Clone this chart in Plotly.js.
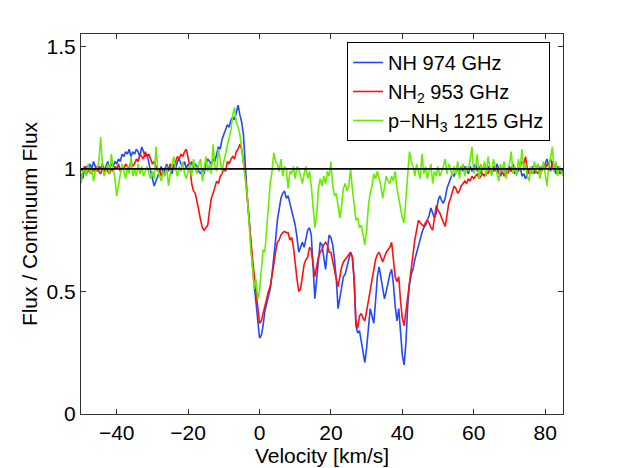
<!DOCTYPE html>
<html>
<head>
<meta charset="utf-8">
<script src="https://cdn.plot.ly/plotly-3.0.1.min.js"></script>
<style>
  html, body { margin: 0; padding: 0; background: #fff; }
  #myGraph { width: 622px; height: 468px; }
</style>
</head>
<body>
<div id="myGraph"></div>
<script>
// velocity grid: -50 .. 85 km/s, 0.5 km/s channels
const velStart = -50;
const velStep = 0.5;

// NH 974 GHz
const fluxNH = [
  0.98, 0.96, 1.00, 1.01, 0.99, 1.02, 1.00, 1.03, 1.01, 0.99,  // -50
  1.01, 1.00, 1.02, 0.99, 1.01, 1.03, 1.00, 1.02, 1.01, 1.03,  // -45
  1.02, 1.04, 1.03, 1.06, 1.05, 1.07, 1.06, 1.08, 1.05, 1.07,  // -40
  1.06, 1.08, 1.07, 1.05, 1.09, 1.07, 1.05, 1.06, 1.02, 0.99,  // -35
  0.96, 0.93, 0.95, 0.97, 0.99, 1.01, 0.98, 1.00, 1.02, 0.99,  // -30
  1.01, 0.98, 1.02, 1.00, 1.03, 1.04, 1.02, 1.01, 1.03, 1.00,  // -25
  1.02, 1.01, 1.03, 1.00, 1.02, 1.01, 0.99, 0.98, 1.00, 0.98,  // -20
  1.02, 1.04, 1.03, 1.02, 1.04, 1.03, 1.06, 1.09, 1.08, 1.12,  // -15
  1.14, 1.16, 1.18, 1.17, 1.20, 1.21, 1.20, 1.23, 1.26, 1.22,  // -10
  1.19, 1.14, 1.01, 0.90, 0.81, 0.70, 0.61, 0.53, 0.46, 0.39,  // -5
  0.31, 0.32, 0.36, 0.42, 0.45, 0.49, 0.51, 0.57, 0.63, 0.71,  // 0
  0.79, 0.84, 0.88, 0.90, 0.91, 0.88, 0.89, 0.86, 0.83, 0.80,  // 5
  0.77, 0.72, 0.66, 0.68, 0.70, 0.68, 0.71, 0.75, 0.76, 0.73,  // 10
  0.60, 0.47, 0.55, 0.64, 0.70, 0.69, 0.63, 0.59, 0.67, 0.73,  // 15
  0.72, 0.69, 0.63, 0.55, 0.43, 0.48, 0.53, 0.56, 0.57, 0.60,  // 20
  0.62, 0.66, 0.64, 0.55, 0.36, 0.33, 0.34, 0.30, 0.25, 0.21,  // 25
  0.27, 0.36, 0.43, 0.40, 0.37, 0.46, 0.56, 0.60, 0.56, 0.51,  // 30
  0.47, 0.50, 0.54, 0.57, 0.59, 0.53, 0.44, 0.38, 0.43, 0.33,  // 35
  0.24, 0.20, 0.29, 0.44, 0.53, 0.57, 0.59, 0.63, 0.66, 0.69,  // 40
  0.72, 0.74, 0.76, 0.77, 0.79, 0.81, 0.84, 0.82, 0.80, 0.82,  // 45
  0.87, 0.89, 0.87, 0.86, 0.88, 0.92, 0.94, 0.96, 0.98, 0.97,  // 50
  0.99, 1.00, 0.98, 1.01, 0.99, 1.01, 1.00, 0.98, 1.01, 0.99,  // 55
  1.00, 1.02, 0.99, 1.01, 0.98, 1.00, 1.02, 0.99, 1.01, 1.00,  // 60
  0.98, 1.01, 0.99, 1.02, 1.00, 0.97, 0.99, 1.01, 0.98, 1.00,  // 65
  1.01, 0.99, 1.02, 0.98, 1.00, 0.99, 1.01, 0.97, 0.98, 0.96,  // 70
  0.98, 1.00, 0.99, 1.01, 0.98, 1.00, 1.02, 0.99, 1.01, 1.00,  // 75
  1.02, 1.04, 1.01, 0.99, 1.03, 1.00, 0.98, 1.01, 0.99, 0.98,  // 80
  1.00
];

// NH2 953 GHz
const fluxNH2 = [
  1.00, 0.99, 1.01, 0.98, 0.99, 1.00, 0.98, 1.00, 0.99, 1.01,  // -50
  0.99, 0.98, 1.00, 0.99, 1.01, 0.99, 0.98, 1.00, 0.99, 1.01,  // -45
  1.00, 1.02, 0.99, 1.01, 1.00, 1.02, 1.01, 1.00, 1.03, 1.01,  // -40
  1.02, 1.04, 1.03, 1.06, 1.05, 1.04, 1.07, 1.05, 1.06, 1.04,  // -35
  1.02, 1.03, 1.01, 0.99, 1.00, 0.97, 0.99, 0.98, 1.01, 1.00,  // -30
  1.02, 1.01, 1.00, 1.03, 1.05, 1.04, 1.06, 1.05, 1.07, 1.08,  // -25
  1.05, 1.01, 0.94, 0.91, 0.90, 0.87, 0.83, 0.79, 0.76, 0.75,  // -20
  0.76, 0.77, 0.83, 0.88, 0.90, 0.93, 0.95, 0.94, 0.97, 0.98,  // -15
  1.00, 0.99, 1.03, 1.02, 1.04, 1.05, 1.04, 1.07, 1.08, 1.10,  // -10
  1.08, 1.03, 0.98, 0.89, 0.80, 0.72, 0.64, 0.57, 0.50, 0.43,  // -5
  0.37, 0.38, 0.41, 0.45, 0.47, 0.50, 0.52, 0.56, 0.61, 0.66,  // 0
  0.70, 0.71, 0.73, 0.74, 0.745, 0.74, 0.74, 0.71, 0.72, 0.68, // 5
  0.60, 0.55, 0.50, 0.51, 0.56, 0.61, 0.63, 0.64, 0.68, 0.67,  // 10
  0.61, 0.56, 0.60, 0.64, 0.66, 0.67, 0.69, 0.70, 0.69, 0.66,  // 15
  0.66, 0.62, 0.58, 0.55, 0.52, 0.56, 0.60, 0.62, 0.63, 0.64,  // 20
  0.65, 0.66, 0.64, 0.55, 0.38, 0.35, 0.40, 0.41, 0.39, 0.38,  // 25
  0.42, 0.46, 0.50, 0.54, 0.58, 0.63, 0.65, 0.66, 0.64, 0.62,  // 30
  0.64, 0.66, 0.67, 0.68, 0.70, 0.64, 0.56, 0.54, 0.56, 0.46,  // 35
  0.39, 0.36, 0.42, 0.49, 0.55, 0.61, 0.66, 0.71, 0.75, 0.79,  // 40
  0.78, 0.77, 0.765, 0.78, 0.79, 0.78, 0.76, 0.75, 0.80, 0.85, // 45
  0.83, 0.82, 0.80, 0.78, 0.765, 0.81, 0.86, 0.88, 0.91, 0.93, // 50
  0.92, 0.90, 0.91, 0.93, 0.94, 0.95, 0.94, 0.96, 0.95, 0.97,  // 55
  0.96, 0.97, 0.98, 0.96, 0.97, 0.98, 0.97, 0.99, 0.98, 1.00,  // 60
  1.00, 0.99, 1.01, 1.00, 0.98, 1.00, 0.99, 0.97, 0.99, 0.98,  // 65
  1.00, 0.99, 1.01, 1.00, 0.98, 1.00, 1.01, 1.03, 1.02, 1.05,  // 70
  1.00, 0.98, 0.99, 0.98, 1.00, 0.99, 0.98, 1.00, 0.99, 1.01,  // 75
  1.00, 1.02, 1.01, 1.04, 1.02, 0.99, 1.01, 1.00, 0.98, 1.00,  // 80
  1.00
];

// p-NH3 1215 GHz
const fluxNH3 = [
  0.94, 0.99, 1.00, 0.97, 1.02, 0.98, 1.00, 0.95, 0.99, 1.00,  // -50
  1.03, 1.13, 1.01, 0.97, 0.99, 1.02, 0.98, 1.06, 1.00, 0.96,  // -45
  0.89, 0.94, 0.97, 1.02, 0.99, 0.96, 1.01, 0.98, 1.05, 0.97,  // -40
  1.00, 0.97, 1.02, 0.98, 1.01, 0.97, 0.99, 1.01, 0.98, 0.96,  // -35
  0.99, 0.96, 1.09, 1.00, 0.97, 0.95, 0.99, 0.97, 1.01, 0.93,  // -30
  0.98, 1.02, 1.05, 1.00, 0.97, 1.01, 0.99, 1.03, 0.98, 0.96,  // -25
  0.99, 1.02, 0.97, 1.04, 1.00, 0.98, 1.02, 1.04, 0.95, 1.00,  // -20
  1.05, 0.99, 1.02, 0.98, 1.10, 1.01, 0.99, 1.08, 1.04, 0.99,  // -15
  1.03, 1.06, 1.10, 1.12, 1.16, 1.22, 1.25, 1.19, 1.17, 1.14,  // -10
  1.08, 1.04, 0.98, 0.90, 0.80, 0.68, 0.61, 0.51, 0.55, 0.47,  // -5
  0.50, 0.59, 0.67, 0.66, 0.75, 0.85, 0.94, 0.99, 1.065, 1.03, // 0
  1.02, 0.99, 1.04, 0.97, 1.01, 1.00, 0.92, 0.99, 0.98, 1.01,  // 5
  0.96, 1.01, 1.00, 0.97, 0.94, 0.98, 1.01, 0.96, 0.99, 0.93,  // 10
  0.85, 0.76, 0.81, 0.92, 0.96, 0.93, 0.97, 0.94, 0.99, 0.97,  // 15
  1.03, 0.93, 0.89, 0.90, 0.85, 0.80, 0.85, 0.92, 0.94, 0.91,  // 20
  0.93, 1.00, 0.92, 0.84, 0.79, 0.80, 0.76, 0.77, 0.73, 0.69,  // 25
  0.75, 0.85, 0.90, 0.93, 0.98, 0.96, 0.99, 0.96, 0.93, 0.88,  // 30
  0.92, 0.97, 0.95, 0.94, 0.97, 0.95, 0.99, 0.92, 0.88, 0.83,  // 35
  0.80, 0.78, 0.88, 0.98, 1.07, 1.03, 1.01, 0.97, 1.02, 0.99,  // 40
  0.96, 1.06, 0.98, 1.01, 0.96, 0.99, 1.02, 0.94, 0.99, 0.97,  // 45
  1.01, 0.97, 0.99, 1.01, 1.04, 0.98, 1.02, 1.00, 0.97, 1.01,  // 50
  0.98, 1.03, 0.96, 1.00, 1.02, 0.97, 1.01, 0.99, 1.04, 1.09,  // 55
  0.98, 1.01, 1.06, 0.96, 1.02, 0.99, 1.03, 0.97, 1.05, 1.00,  // 60
  0.97, 1.04, 1.01, 0.98, 0.95, 1.02, 0.99, 1.03, 0.96, 1.00,  // 65
  1.02, 1.07, 0.98, 1.01, 0.97, 1.04, 1.00, 1.08, 0.99, 1.02,  // 70
  0.97, 0.95, 1.01, 0.98, 1.03, 0.99, 1.02, 0.96, 1.00, 1.03,  // 75
  0.98, 0.93, 1.01, 1.04, 1.09, 0.99, 1.03, 0.97, 1.01, 0.99,  // 80
  0.97
];

const names = ['NH 974 GHz', 'NH<sub>2</sub> 953 GHz', 'p\u2212NH<sub>3</sub> 1215 GHz'];
const series = [fluxNH, fluxNH2, fluxNH3];
const colors = ['#2448ff', '#ff1010', '#66ee00'];

const font = 'Liberation Sans, Arial, Helvetica, sans-serif';

let traces = [];
series.forEach((ys, i) => {
    traces.push({
        type: 'scatter',
        mode: 'lines',
        name: names[i],
        x0: velStart,
        dx: velStep,
        y: ys,
        line: { color: colors[i], width: 1.6 }
    });
});

let layout = {
    width: 622,
    height: 468,
    margin: { l: 81, r: 59, t: 34, b: 54 },
    paper_bgcolor: '#fff',
    plot_bgcolor: '#fff',
    font: { family: font, size: 21, color: '#000' },
    showlegend: true,
    legend: {
        x: 0.552, y: 0.979,
        xanchor: 'left', yanchor: 'top',
        bgcolor: '#fff',
        bordercolor: '#000',
        borderwidth: 1,
        font: { family: font, size: 20, color: '#000' },
        tracegroupgap: 0
    },
    xaxis: {
        range: [-50, 85],
        tickvals: [-40, -20, 0, 20, 40, 60, 80],
        ticks: 'inside',
        ticklen: 5,
        tickcolor: '#333',
        showline: true,
        linecolor: '#333',
        linewidth: 1,
        mirror: 'ticks',
        showgrid: false,
        zeroline: false,
        title: { text: 'Velocity [km/s]', standoff: 0, font: { family: font, size: 21 } }
    },
    yaxis: {
        range: [0, 1.55],
        tickvals: [0, 0.5, 1, 1.5],
        ticks: 'inside',
        ticklen: 5,
        tickcolor: '#333',
        showline: true,
        linecolor: '#333',
        linewidth: 1,
        mirror: 'ticks',
        showgrid: false,
        zeroline: false,
        title: { text: 'Flux / Continuum Flux', standoff: 3, font: { family: font, size: 21 } }
    },
    shapes: [{
        type: 'line', xref: 'paper', yref: 'y',
        x0: 0, x1: 1, y0: 1, y1: 1,
        line: { color: '#000', width: 1.6 },
        layer: 'above'
    }]
};

Plotly.newPlot('myGraph', traces, layout, { displayModeBar: false, staticPlot: true });
</script>
</body>
</html>
